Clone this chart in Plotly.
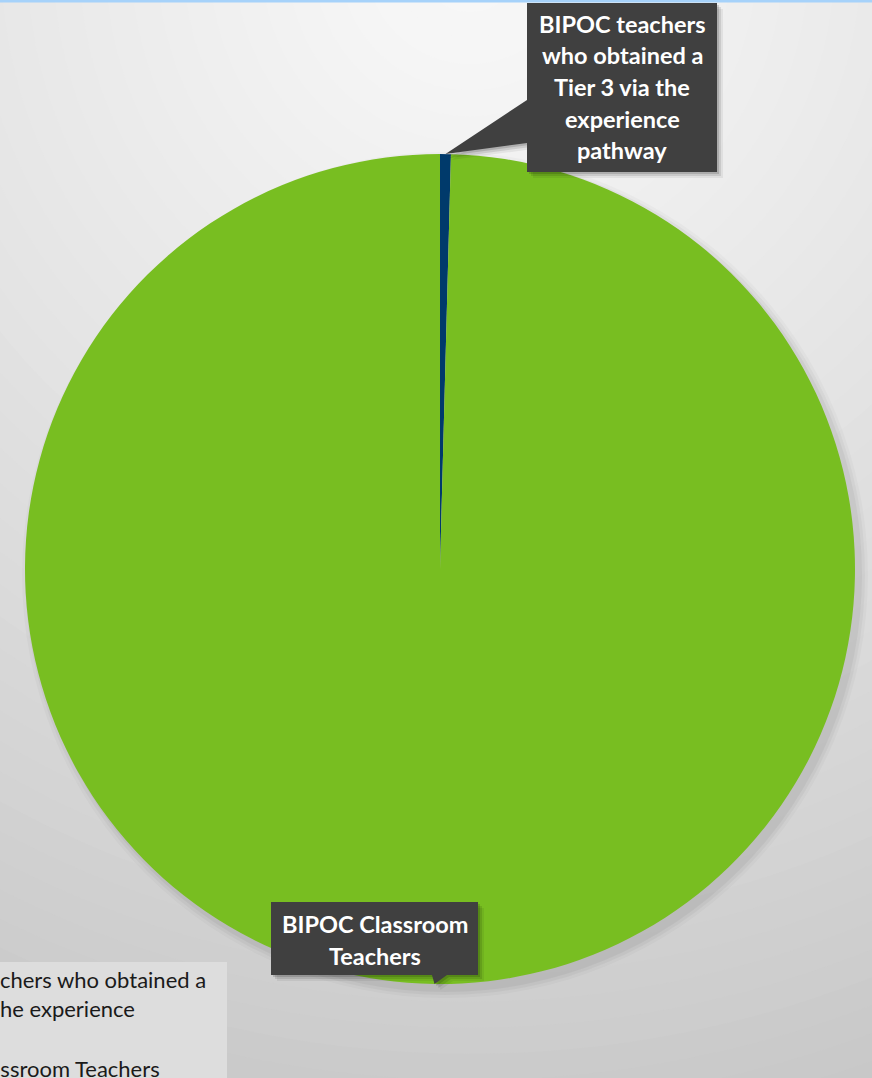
import math
import plotly.graph_objects as go

# ---------------- data ----------------
labels = [
    "BIPOC teachers who obtained a<br>Tier 3 via the experience<br>pathway",
    "BIPOC Classroom Teachers",
]
values = [0.42, 99.58]          # share of the pie (%)
colors = ["#003a6b", "#78be21"]
callout_lines = [
    ["BIPOC teachers", "who obtained a", "Tier 3 via the", "experience", "pathway"],
    ["BIPOC Classroom", "Teachers"],
]

# ---------------- geometry helpers ----------------
W, H = 872, 1078
CX, CY, R = 440, 569, 415


def px(x):
    return x / W


def py(y):
    return 1 - y / H


def poly(points):
    return "M " + " L ".join(f"{px(x):.5f},{py(y):.5f}" for x, y in points) + " Z"


def slice_tip(i):
    total = sum(values)
    start = sum(values[:i]) / total
    mid = (start + values[i] / total / 2) * 2 * math.pi
    return CX + R * math.sin(mid), CY - R * math.cos(mid)


shapes = []

# background radial gradient (light at top centre, darker outward)
GX, GY = 470, -40
steps = 48
maxd = 1250
for k in range(steps, 0, -1):
    d = maxd * k / steps
    v = 249 - 47 * (d / 1160) ** 1.15
    v = int(max(196, min(249, v)))
    c = f"rgb({v},{v},{v})"
    shapes.append(dict(type="circle", xref="paper", yref="paper", layer="below",
                       x0=px(GX - d), x1=px(GX + d), y0=py(GY + d), y1=py(GY - d),
                       fillcolor=c, line=dict(width=0)))

# soft shadow around the pie (offset down-right)
for dd, a in [(8, 0.025), (5, 0.035), (2, 0.045)]:
    shapes.append(dict(type="circle", xref="paper", yref="paper", layer="below",
                       x0=px(CX - R - dd + 5), x1=px(CX + R + dd + 5),
                       y0=py(CY + R + dd + 6), y1=py(CY - R - dd + 6),
                       fillcolor=f"rgba(0,0,0,{a})", line=dict(width=0)))

# top border
shapes.append(dict(type="line", xref="paper", yref="paper", layer="above",
                   x0=0, x1=1, y0=py(1), y1=py(1), line=dict(color="#a6d2fa", width=3)))

# legend panel (extends the legend background to its reference width)
shapes.append(dict(type="rect", xref="paper", yref="paper", layer="above",
                   x0=px(-5), x1=px(227), y0=py(1085), y1=py(962),
                   fillcolor="#dddddd", line=dict(width=0)))

# callout boxes
tx, ty = slice_tip(0)
box1 = [(527, 3), (717, 3), (717, 172), (527, 172), (527, 143), (tx, ty), (527, 100)]
bx, by = slice_tip(1)
box2 = [(271, 902), (478, 902), (478, 975), (447, 975), (bx, by), (432, 975), (271, 975)]
for box in (box1, box2):
    for off, a in [(6, 0.06), (4, 0.10), (2, 0.14)]:
        shapes.append(dict(type="path", xref="paper", yref="paper", layer="above",
                           path=poly([(x + off, y + off) for x, y in box]),
                           fillcolor=f"rgba(0,0,0,{a})", line=dict(width=0)))
    shapes.append(dict(type="path", xref="paper", yref="paper", layer="above",
                       path=poly(box), fillcolor="#404040", line=dict(width=0)))

annotations = []
for lines, xc, y0, dy in [(callout_lines[0], 622, 24, 31.5), (callout_lines[1], 374.5, 924, 31.5)]:
    for j, t in enumerate(lines):
        annotations.append(dict(text=f"<b>{t}</b>", x=px(xc), y=py(y0 + j * dy),
                                xref="paper", yref="paper", showarrow=False,
                                xanchor="center", yanchor="middle",
                                font=dict(family="Lato", size=23.5, color="white")))

fig = go.Figure(go.Pie(
    labels=labels, values=values, sort=False, direction="clockwise", rotation=0,
    marker=dict(colors=colors, line=dict(width=0)),
    textinfo="none", hoverinfo="skip",
    domain=dict(x=[px(CX - R), px(CX + R)], y=[py(CY + R), py(CY - R)]),
))

fig.update_layout(
    width=W, height=H,
    margin=dict(l=0, r=0, t=0, b=0, pad=0, autoexpand=False),
    paper_bgcolor="#e6e6e6", plot_bgcolor="rgba(0,0,0,0)",
    shapes=shapes, annotations=annotations,
    showlegend=True,
    legend=dict(x=-142 / W, y=py(959), xanchor="left", yanchor="top",
                bgcolor="rgba(0,0,0,0)", borderwidth=0,
                font=dict(family="Lato", size=22, color="#1a1a1a"),
                traceorder="normal"),
)

fig.write_html("out.html")
